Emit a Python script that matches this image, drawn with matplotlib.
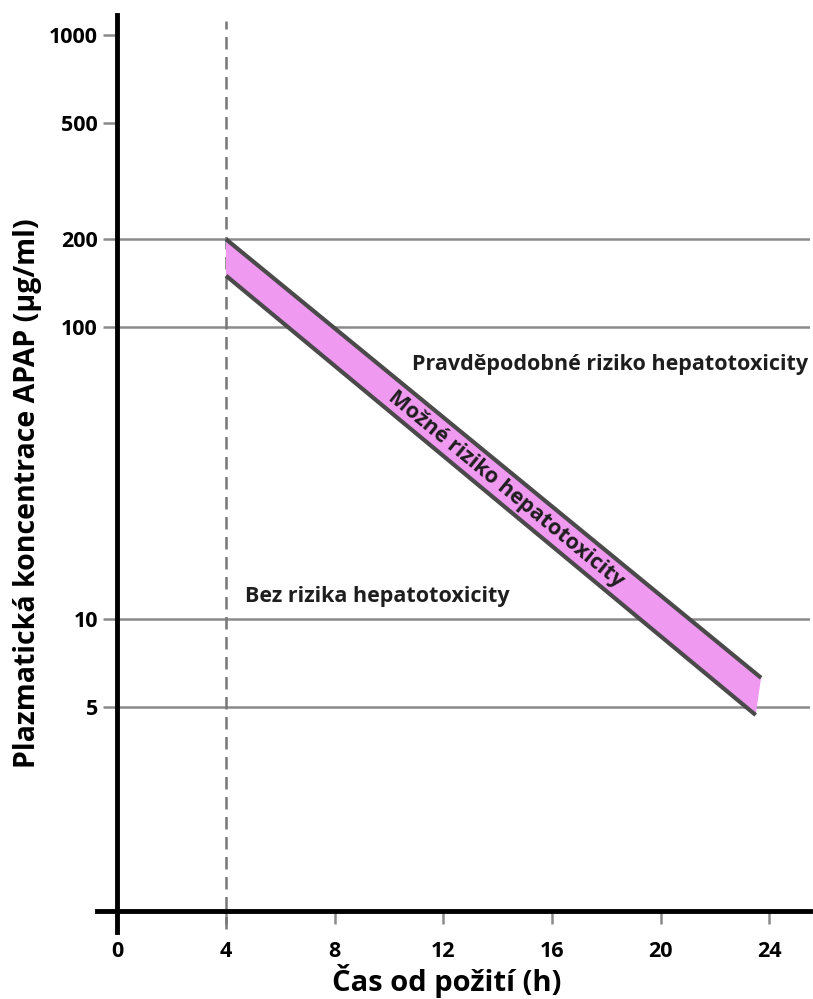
# Rumack-Matthew nomogram (paracetamol / APAP)

import numpy as np
import matplotlib.pyplot as plt

plt.rcParams['font.family'] = ['Open Sans', 'DejaVu Sans']
plt.rcParams['font.weight'] = 'bold'

# data
x_ticks = [0, 4, 8, 12, 16, 20, 24]
y_ticks = [5, 10, 100, 200, 500, 1000]
y_ticklabels = ["5", "10", "100", "200", "500", "1000"]
grid_levels = [5, 10, 100, 200]

upper_t = [4, 23.7]
upper_c = [200, 6.3]
lower_t = [4, 23.5]
lower_c = [150, 4.7]

band_t = [4, 23.7, 23.5, 4]
band_c = [200, 6.3, 4.7, 150]

fig = plt.figure(figsize=(8.13, 9.99), dpi=100)
ax = fig.add_axes([0.1193, 0.0671, 0.9963 - 0.1193, 0.985 - 0.0671])

ax.set_yscale("log")
ax.set_xlim(-0.75, 25.5)
ax.set_ylim(0.85, 1171)

# grid lines
for lvl in grid_levels:
    ax.plot([0, 25.5], [lvl, lvl], color="#8a8a8a", lw=1.8, zorder=1)

# 4h dashed line
ax.plot([4, 4], [0.87, 1120], color="#777777", lw=1.8, ls=(0, (5, 3)), zorder=2)

# band
ax.fill(band_t, band_c, color="#f099f0", lw=0, zorder=3)
ax.plot(upper_t, upper_c, color="#4a4a4a", lw=3, zorder=4, solid_capstyle="butt")
ax.plot(lower_t, lower_c, color="#4a4a4a", lw=3, zorder=4, solid_capstyle="butt")

# spines
for s in ["top", "right"]:
    ax.spines[s].set_visible(False)
ax.spines["left"].set_position(("data", 0))
ax.spines["bottom"].set_position(("data", 1))
for s in ["left", "bottom"]:
    ax.spines[s].set_linewidth(3.5)
    ax.spines[s].set_zorder(5)

ax.set_yticks(y_ticks)
ax.set_yticklabels(y_ticklabels)
ax.yaxis.set_minor_locator(plt.NullLocator())
ax.set_xticks(x_ticks)
ax.tick_params(axis="y", colors="#8a8a8a", labelcolor="black", width=1.8, length=10, pad=4, labelsize=15.5)
ax.tick_params(axis="x", colors="#8a8a8a", labelcolor="black", width=1.8, length=9, pad=12, labelsize=15.5)
for lab in ax.get_xticklabels() + ax.get_yticklabels():
    lab.set_fontweight("bold")

fig.text(447 / 813, 1 - 981 / 999, "Čas od požití (h)", fontsize=21, fontweight="bold",
         ha="center", va="center")
fig.text(28 / 813, 1 - 493 / 999, "Plazmatická koncentrace APAP (µg/ml)", rotation=90,
         fontsize=20.5, fontweight="bold", ha="center", va="center")

# region labels
ax.text(10.86, 74.7, "Pravděpodobné riziko hepatotoxicity", fontsize=15.5, fontweight="bold",
        color="#1e1e1e", ha="left", va="center")
ax.text(4.71, 12.0, "Bez rizika hepatotoxicity", fontsize=15.5, fontweight="bold",
        color="#1e1e1e", ha="left", va="center")

# angle of the band on screen
p0 = ax.transData.transform((upper_t[0], upper_c[0]))
p1 = ax.transData.transform((upper_t[1], upper_c[1]))
ang = np.degrees(np.arctan2(p1[1] - p0[1], p1[0] - p0[0]))
ax.text(14.32, 27.9, "Možné riziko hepatotoxicity", fontsize=15.5, fontweight="bold",
        color="#1e1e1e", ha="center", va="center", rotation=ang, rotation_mode="anchor", zorder=6)

fig.savefig("out.png", dpi=100)
